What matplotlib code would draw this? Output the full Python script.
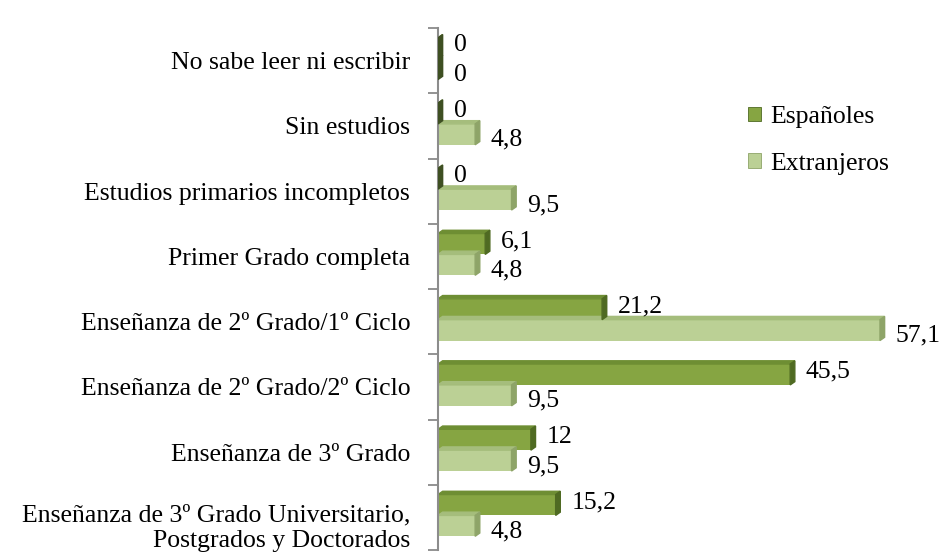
import matplotlib
matplotlib.use("Agg")
import matplotlib.pyplot as plt
from matplotlib.patches import Polygon, Patch
from matplotlib.transforms import ScaledTranslation
import numpy as np

categories = [
    "No sabe leer ni escribir",
    "Sin estudios",
    "Estudios primarios incompletos",
    "Primer Grado completa",
    "Enseñanza de 2º Grado/1º Ciclo",
    "Enseñanza de 2º Grado/2º Ciclo",
    "Enseñanza de 3º Grado",
    "Enseñanza de 3º Grado Universitario,\nPostgrados y Doctorados",
]
espanoles = [0, 0, 0, 6.1, 21.2, 45.5, 12, 15.2]
extranjeros = [0, 4.8, 9.5, 4.8, 57.1, 9.5, 9.5, 4.8]
series_names = ["Españoles", "Extranjeros"]

plt.rcParams["font.family"] = ["Liberation Serif", "DejaVu Serif"]
FS = 18.5

fig = plt.figure(figsize=(9.45, 5.52), dpi=100)
ax = fig.add_axes([438 / 945, 2 / 552, 1 - 438 / 945, 522 / 552])

h = 0.32
dx, dy = 0.6, 0.05
styles = [("#86A542", "#4F6A22", "#6E8E33"), ("#BBD095", "#8EA468", "#A5BD7C")]
y = np.arange(len(categories))

for k, vals in enumerate([espanoles, extranjeros]):
    front, side, top = styles[k]
    yc = y - 0.03 - h / 2 + k * h
    for yi, v in zip(yc, vals):
        y0, y1 = yi - h / 2, yi + h / 2
        ax.barh(yi, v, height=h, color=front, edgecolor="none", zorder=2)
        ax.add_patch(Polygon([(0, y0), (dx, y0 - dy), (v + dx, y0 - dy), (v, y0)],
                             closed=True, color=top, zorder=2))
        side_c = side if v > 0 else "#3E4F22"
        ax.add_patch(Polygon([(v, y0), (v + dx, y0 - dy), (v + dx, y1 - dy), (v, y1)],
                             closed=True, color=side_c, zorder=3))
        txt = f"{v:g}".replace(".", ",")
        off = 2 if k == 0 else -4
        ax.annotate(txt, (v + dx, yi), xytext=(8, off), textcoords="offset points",
                    ha="left", va="center", fontsize=FS, color="black")

ax.set_xlim(0, 65.5)
ax.set_ylim(len(categories) - 0.5, -0.5)
ax.set_xticks([])
ax.set_yticks(y)
ax.set_yticklabels(categories, fontsize=FS, ha="right", multialignment="right",
                   linespacing=1.2)
ax.set_yticks(np.arange(len(categories) + 1) - 0.5, minor=True)
ax.tick_params(axis="y", which="major", length=0, pad=20)
ax.tick_params(axis="y", which="minor", length=7, width=1.2, color="#808080", direction="out")
last = ax.get_yticklabels()[-1]
last.set_transform(last.get_transform() + ScaledTranslation(0, -5 / 72, fig.dpi_scale_trans))
for s in ["top", "right", "bottom"]:
    ax.spines[s].set_visible(False)
ax.spines["left"].set_color("#8C8C8C")
ax.spines["left"].set_linewidth(1.5)
ax.patch.set_alpha(0)

handles = [Patch(facecolor=styles[i][0], edgecolor=styles[i][1], linewidth=0.6) for i in range(2)]
fig.legend(handles, series_names, loc="upper left", bbox_to_anchor=(738 / 945, 1 - 96 / 552),
           frameon=False, fontsize=FS, handlelength=0.5, handleheight=0.5,
           handletextpad=0.35, labelspacing=0.95, borderaxespad=0)

fig.savefig("out.png", dpi=100)
